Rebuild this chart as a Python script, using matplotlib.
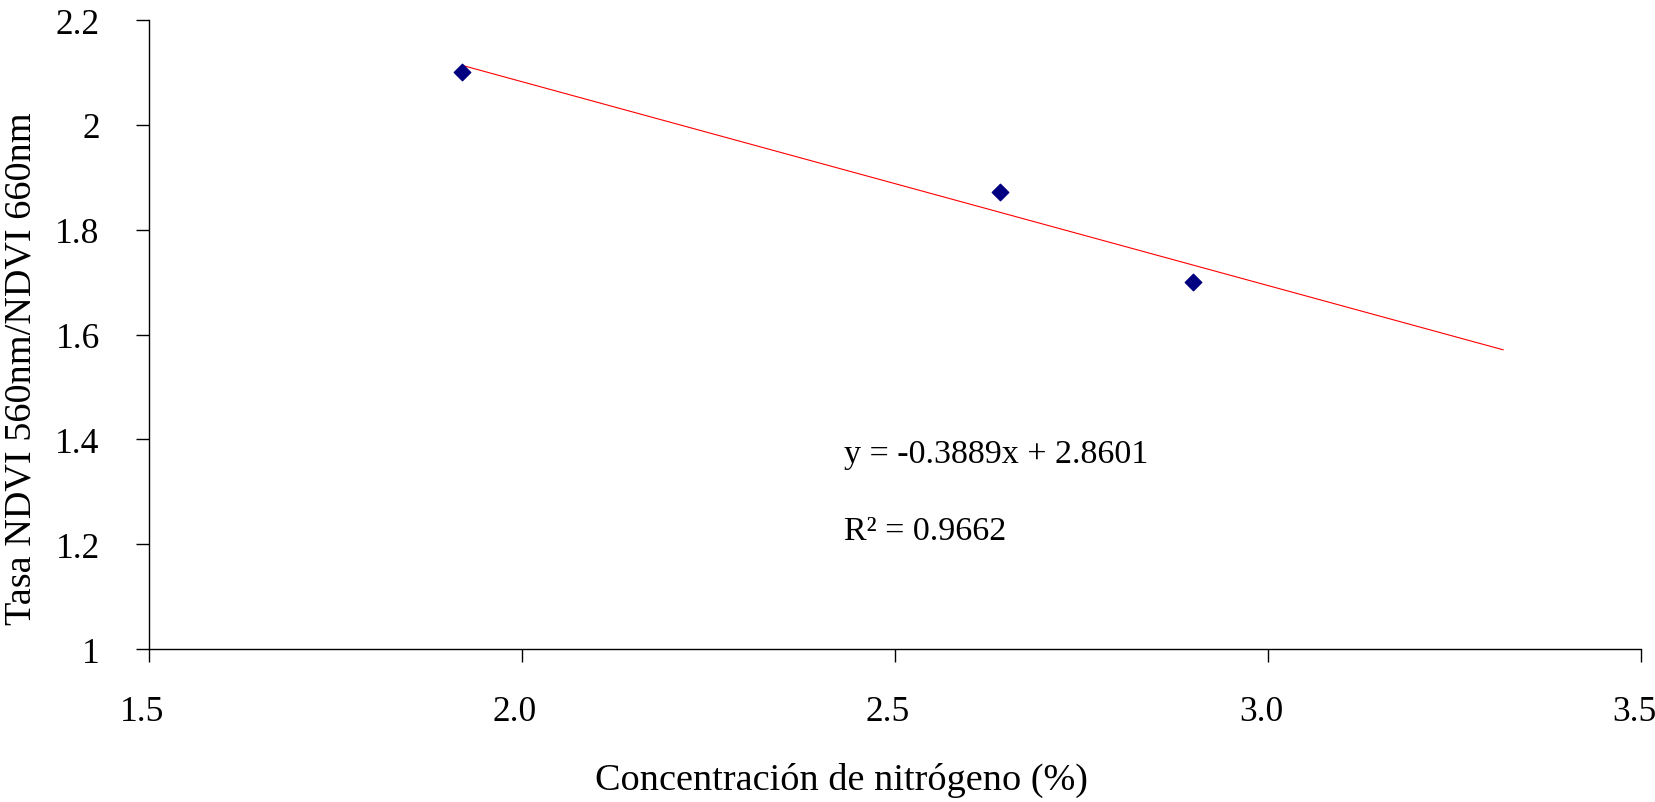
import numpy as np
import matplotlib
matplotlib.use("Agg")
import matplotlib.pyplot as plt
import matplotlib.transforms as mtransforms

# data
nitrogen = [1.92, 2.64, 2.90]
ndvi_ratio = [2.10, 1.872, 1.70]
slope = -0.3889
intercept = 2.8601
trend_x_end = 3.315

x_ticks = [1.5, 2.0, 2.5, 3.0, 3.5]
x_tick_labels = ["1.5", "2.0", "2.5", "3.0", "3.5"]
y_ticks = [1.0, 1.2, 1.4, 1.6, 1.8, 2.0, 2.2]
y_tick_labels = ["1", "1.2", "1.4", "1.6", "1.8", "2", "2.2"]

plt.rcParams["font.family"] = ["Liberation Serif", "DejaVu Serif"]

fig = plt.figure(figsize=(16.56, 8.03), dpi=100)
ax = fig.add_axes([0.09, 0.1905, 0.901, 0.7833])

# trend line
tx = np.array([min(nitrogen), trend_x_end])
ax.plot(tx, slope * tx + intercept, color="#ff0000", linewidth=0.8, zorder=2)

ax.scatter(nitrogen, ndvi_ratio, marker="D", s=70, color="#000080",
           edgecolors="#000080", zorder=3)

ax.set_xlim(1.5, 3.5)
ax.set_ylim(1.0, 2.2)
ax.set_xticks(x_ticks)
ax.set_xticklabels(x_tick_labels)
ax.set_yticks(y_ticks)
ax.set_yticklabels(y_tick_labels)

for s in ["top", "right"]:
    ax.spines[s].set_visible(False)
for s in ["left", "bottom"]:
    ax.spines[s].set_color("black")
    ax.spines[s].set_linewidth(1.0)

ax.tick_params(axis="both", direction="out", length=9.5, width=1,
               labelsize=25.5, colors="black")
ax.tick_params(axis="x", pad=23.5)
ax.tick_params(axis="y", pad=26)

# the x labels sit a little left of their ticks in the original
shift = mtransforms.ScaledTranslation(-7 / 100, 0, fig.dpi_scale_trans)
for lab in ax.get_xticklabels():
    lab.set_transform(lab.get_transform() + shift)

ax.set_xlabel("Concentración de nitrógeno (%)", fontsize=27.5, va="baseline")
ax.xaxis.set_label_coords(0.4638, -0.2217)
ax.set_ylabel("Tasa NDVI 560nm/NDVI 660nm", fontsize=27.5, va="baseline")
ax.yaxis.set_label_coords(-0.0792, 0.448)

ax.text(2.4315, 1.356, "y = -0.3889x + 2.8601", fontsize=24.5, ha="left", va="baseline")
ax.text(2.4315, 1.2105, "R² = 0.9662", fontsize=24.5, ha="left", va="baseline")

fig.savefig("out.png", dpi=100, facecolor="white")
